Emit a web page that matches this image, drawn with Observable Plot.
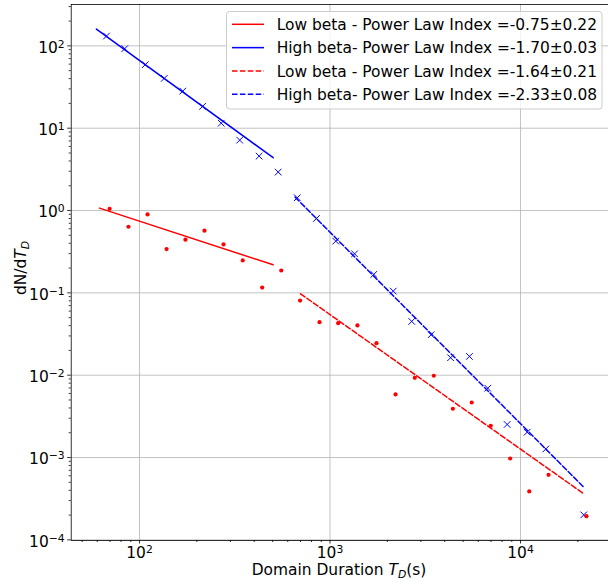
<!DOCTYPE html>
<html><head><meta charset="utf-8">
<script src="https://cdn.jsdelivr.net/npm/d3@7"></script>
<script src="https://cdn.jsdelivr.net/npm/@observablehq/plot@0.6"></script>
<style>
body{margin:0;background:#fff;}
#wrap{position:relative;width:608px;height:582px;}
</style></head><body><div id="wrap"></div>
<script>
// ---- data ----
const highX = [67.1, 83.7, 107.2, 134.9, 168.7, 214.3, 268.5, 335.7, 424.6, 534.6, 673, 849, 1072, 1346, 1698, 2148, 2685, 3396, 4295, 5395, 6730, 8511, 10839, 13583, 21478];
const highY = [131.6, 92.5, 59.1, 40.3, 28.2, 18.4, 11.5, 7.16, 4.58, 2.93, 1.43, 0.80, 0.425, 0.298, 0.1675, 0.105, 0.045, 0.031, 0.0163, 0.0169, 0.00695, 0.00252, 0.00203, 0.00127, 0.000201];
const lowX = [69.7, 87.5, 110.2, 138.7, 174.2, 219.3, 276.1, 348.3, 440.6, 554.6, 696.6, 881, 1104, 1393, 1754, 2208, 2786, 3508, 4416, 5546, 6982, 8831, 11117, 14028, 22182];
const lowY = [1.05, 0.635, 0.897, 0.340, 0.442, 0.569, 0.387, 0.248, 0.116, 0.187, 0.0807, 0.0441, 0.0428, 0.0402, 0.0245, 0.00584, 0.00929, 0.00984, 0.00391, 0.00466, 0.00243, 0.000973, 0.000387, 0.000617, 0.000194];
// fitted power-law lines (end points)
const lowFitShortX = [61.7, 503];
const lowFitShortY = [1.07, 0.219];
const highFitShortX = [59.4, 503];
const highFitShortY = [160, 4.38];
const lowFitLongX = [700, 21300];
const lowFitLongY = [0.0975, 0.000368];
const highFitLongX = [656, 21300];
const highFitLongY = [1.455, 0.000445];
// ticks & labels
const xMajor = [100, 1000, 10000];
const yMajor = [1e-4, 1e-3, 1e-2, 1e-1, 1, 10, 100];
const legendLabels = [
  "Low beta - Power Law Index =-0.75\u00b10.22",
  "High beta- Power Law Index =-1.70\u00b10.03",
  "Low beta - Power Law Index =-1.64\u00b10.21",
  "High beta- Power Law Index =-2.33\u00b10.08"
];
const legendColors = ["#ff0000", "#0000ff", "#ff0000", "#0000ff"];
const legendDashed = [false, false, true, true];
const xLabelText = "Domain Duration ";
const yLabelText = "dN/d";

// ---- layout ----
const xDomain = [43.8, 28970];
const yDomain = [9.82e-5, 318];
const dash = "5.5,2.4";
const font = "DejaVu Sans";
const fs = 15.45, fsSmall = 10.8;

function minorTicks(lo, hi) {
  const out = [];
  for (let e = Math.floor(Math.log10(lo)); e <= Math.ceil(Math.log10(hi)); e++) {
    for (let m = 2; m <= 9; m++) {
      const v = m * Math.pow(10, e);
      if (v >= lo && v <= hi) out.push(v);
    }
  }
  return out;
}
const xMinor = minorTicks(...xDomain);
const yMinor = minorTicks(...yDomain);
const fmt = d => "10^" + Math.round(Math.log10(d));

const plot = Plot.plot({
  width: 608, height: 582,
  marginLeft: 70.7, marginRight: 0, marginTop: 4, marginBottom: 42,
  style: {fontFamily: font, fontSize: fs + "px", color: "black", background: "white", overflow: "visible"},
  x: {type: "log", domain: xDomain},
  y: {type: "log", domain: yDomain},
  marks: [
    Plot.gridX(xMajor, {stroke: "#b0b0b0", strokeOpacity: 0.85, strokeWidth: 0.9}),
    Plot.gridY(yMajor, {stroke: "#b0b0b0", strokeOpacity: 0.85, strokeWidth: 0.9}),
    Plot.axisX(xMinor, {tickSize: 2, tickFormat: () => "", label: null, strokeWidth: 0.8}),
    Plot.axisX(xMajor, {tickSize: 3.5, tickFormat: () => "", label: null, strokeWidth: 0.8}),
    Plot.axisY(yMinor, {tickSize: 2, tickFormat: () => "", label: null, strokeWidth: 0.8}),
    Plot.axisY(yMajor, {tickSize: 3.5, tickFormat: () => "", label: null, strokeWidth: 0.8}),
    Plot.text(xMajor, {x: d => d, text: fmt, frameAnchor: "bottom", lineAnchor: "top", dy: 7, fontSize: fs}),
    Plot.text(yMajor, {y: d => d, text: fmt, frameAnchor: "left", textAnchor: "end", dx: -6.5, dy: 2, fontSize: fs}),
    Plot.dot(highX, {x: highX, y: highY, symbol: "times", r: 3.1, stroke: "#0000ff", strokeWidth: 1}),
    Plot.dot(lowX, {x: lowX, y: lowY, r: 2.1, fill: "#ff0000"}),
    Plot.line(lowFitShortX, {x: lowFitShortX, y: lowFitShortY, stroke: "#ff0000", strokeWidth: 1.5}),
    Plot.line(highFitShortX, {x: highFitShortX, y: highFitShortY, stroke: "#0000ff", strokeWidth: 1.5}),
    Plot.line(lowFitLongX, {x: lowFitLongX, y: lowFitLongY, stroke: "#ff0000", strokeWidth: 1.5, strokeDasharray: dash}),
    Plot.line(highFitLongX, {x: highFitLongX, y: highFitLongY, stroke: "#0000ff", strokeWidth: 1.5, strokeDasharray: dash}),
    Plot.frame({stroke: "black", strokeWidth: 0.8})
  ]
});

const svg = d3.select(plot);
// superscript exponents on tick labels
svg.selectAll("text").each(function() {
  const t = this.textContent;
  if (t.startsWith("10^")) {
    const e = t.slice(3).replace("-", "\u2212");
    const s = d3.select(this);
    s.text("10");
    s.append("tspan").attr("dy", -5).attr("font-size", fsSmall + "px").text(e);
  }
});

// axis labels
const xl = svg.append("text").attr("x", 339).attr("y", 575).attr("text-anchor", "middle")
  .attr("font-family", font).attr("font-size", fs).attr("fill", "black");
xl.append("tspan").text(xLabelText);
xl.append("tspan").attr("font-style", "italic").text("T");
xl.append("tspan").attr("font-style", "italic").attr("font-size", fsSmall).attr("dy", 3).text("D");
xl.append("tspan").attr("dy", -3).text("(s)");

const yl = svg.append("text").attr("transform", "translate(26,268) rotate(-90)").attr("text-anchor", "middle")
  .attr("font-family", font).attr("font-size", fs).attr("fill", "black");
yl.append("tspan").text(yLabelText);
yl.append("tspan").attr("font-style", "italic").text("T");
yl.append("tspan").attr("font-style", "italic").attr("font-size", fsSmall).attr("dy", 3).text("D");

// legend
const lg = svg.append("g");
lg.append("rect").attr("x", 226.5).attr("y", 11.5).attr("width", 375.5).attr("height", 97.5).attr("rx", 3)
  .attr("fill", "white").attr("fill-opacity", 0.8).attr("stroke", "#cccccc").attr("stroke-width", 1);
legendLabels.forEach((lab, i) => {
  const cy = 24.3 + i * 23.35;
  lg.append("line").attr("x1", 232).attr("x2", 264).attr("y1", cy).attr("y2", cy)
    .attr("stroke", legendColors[i]).attr("stroke-width", 1.5)
    .attr("stroke-dasharray", legendDashed[i] ? dash : null);
  lg.append("text").attr("x", 276.7).attr("y", cy + 5.6).attr("text-anchor", "start")
    .attr("font-family", font).attr("font-size", fs).attr("fill", "black").text(lab);
});

document.getElementById("wrap").appendChild(plot);
</script></body></html>
